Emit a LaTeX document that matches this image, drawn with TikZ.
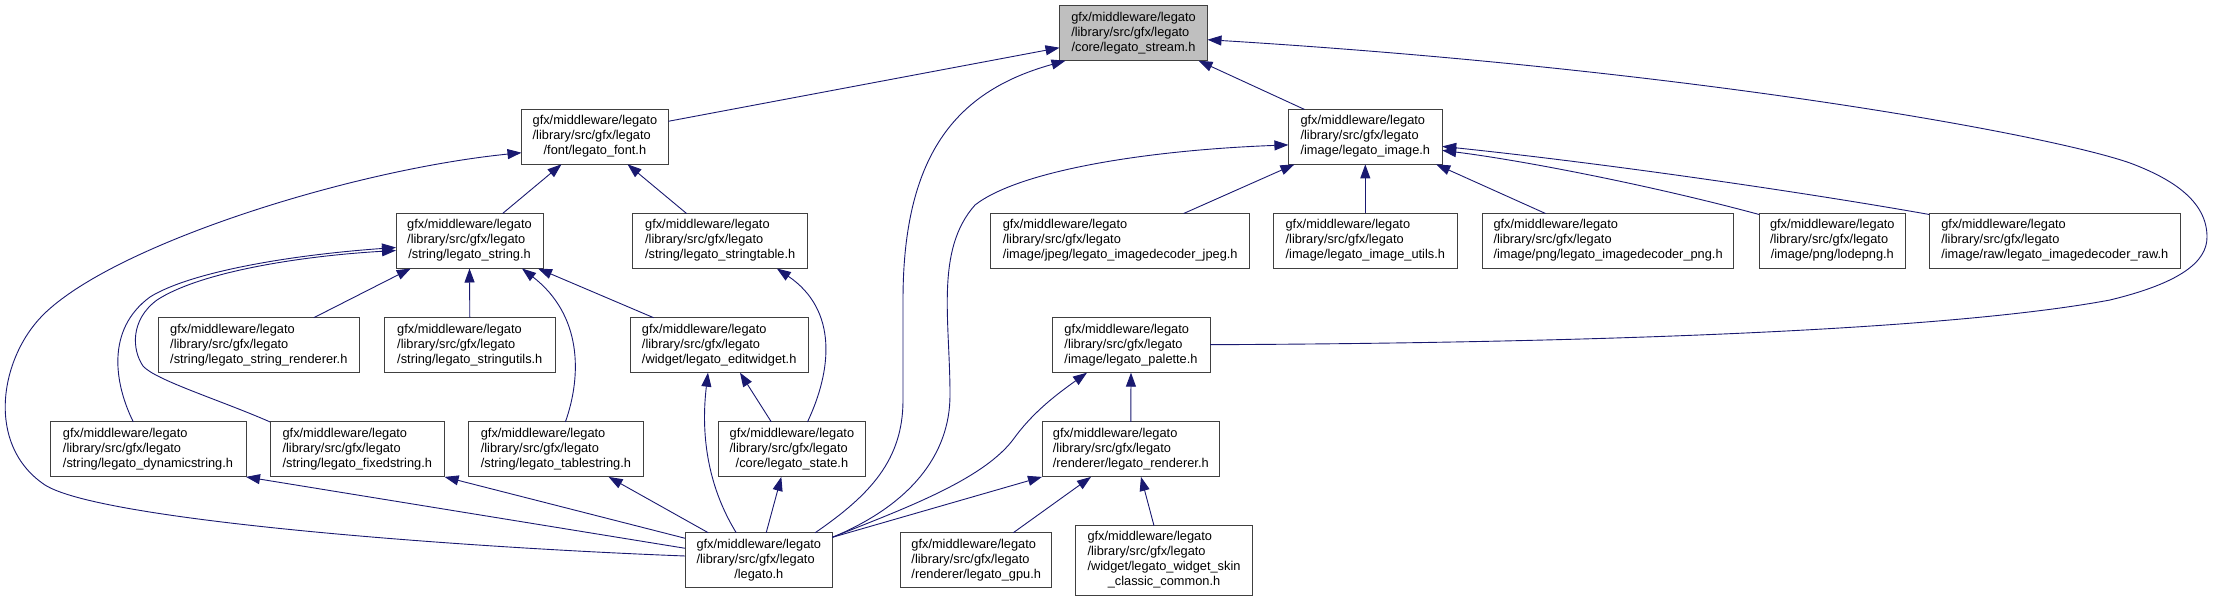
\documentclass[tikz,border=0pt]{standalone}
\usepackage{fontspec}
\setmainfont{Liberation Sans}
\usetikzlibrary{arrows.meta,calc}
\definecolor{edgeblue}{RGB}{25,25,112}
\definecolor{boxgray}{RGB}{191,191,191}
\newcommand\lblfont{\fontsize{12.8}{15}\selectfont}
\newcommand\dxlbl[1]{\begin{tabular}{@{}l@{}}gfx/middleware/legato\\/library/src/gfx/legato\\\multicolumn{1}{@{}c@{}}{#1}\end{tabular}}
\begin{document}
\begin{tikzpicture}[x=1pt,y=-1pt,
  filebox/.style={draw=black!75, line width=0.9pt, fill=white, inner sep=0pt, outer sep=0pt, minimum height=55pt, font=\lblfont},
  edge/.style={draw=edgeblue, line width=0.9pt, -{Triangle[length=14pt,width=10pt]}}]
\useasboundingbox (0,0) rectangle (2213,601);
% nodes
\node[filebox, fill=boxgray, minimum width=148pt] (stream) at (1133.5,33.2) {\dxlbl{/core/legato\_stream.h}};
\node[filebox, minimum width=146.8pt] (font) at (594.9,136.8) {\dxlbl{/font/legato\_font.h}};
\node[filebox, minimum width=153.8pt] (image) at (1365.3,136.9) {\dxlbl{/image/legato\_image.h}};
\node[filebox, minimum width=147pt] (string) at (469.5,241) {\dxlbl{/string/legato\_string.h}};
\node[filebox, minimum width=174.7pt] (stringtable) at (720.2,241) {\dxlbl{/string/legato\_stringtable.h}};
\node[filebox, minimum width=259.1pt] (jpeg) at (1120.2,241) {\dxlbl{/image/jpeg/legato\_imagedecoder\_jpeg.h}};
\node[filebox, minimum width=184pt] (imgutils) at (1365.3,241) {\dxlbl{/image/legato\_image\_utils.h}};
\node[filebox, minimum width=251.6pt] (png) at (1608.1,241) {\dxlbl{/image/png/legato\_imagedecoder\_png.h}};
\node[filebox, minimum width=146.3pt] (lodepng) at (1832.3,241) {\dxlbl{/image/png/lodepng.h}};
\node[filebox, minimum width=251pt] (raw) at (2054.8,241) {\dxlbl{/image/raw/legato\_imagedecoder\_raw.h}};
\node[filebox, minimum width=201.6pt] (strrenderer) at (258.8,345.2) {\dxlbl{/string/legato\_string\_renderer.h}};
\node[filebox, minimum width=170.4pt] (stringutils) at (469.8,345.2) {\dxlbl{/string/legato\_stringutils.h}};
\node[filebox, minimum width=178.4pt] (editwidget) at (719.2,345.2) {\dxlbl{/widget/legato\_editwidget.h}};
\node[filebox, minimum width=158pt] (palette) at (1131,345.2) {\dxlbl{/image/legato\_palette.h}};
\node[filebox, minimum width=196pt] (dynamicstring) at (148,449.4) {\dxlbl{/string/legato\_dynamicstring.h}};
\node[filebox, minimum width=174.6pt] (fixedstring) at (357.3,449.4) {\dxlbl{/string/legato\_fixedstring.h}};
\node[filebox, minimum width=174.6pt] (tablestring) at (555.9,449.4) {\dxlbl{/string/legato\_tablestring.h}};
\node[filebox, minimum width=147.2pt] (state) at (791.9,449.4) {\dxlbl{/core/legato\_state.h}};
\node[filebox, minimum width=177.6pt] (renderer) at (1130.8,449.4) {\dxlbl{/renderer/legato\_renderer.h}};
\node[filebox, minimum width=147.2pt] (legato) at (758.8,560.2) {\dxlbl{/legato.h}};
\node[filebox, minimum width=151pt] (gpu) at (976.2,560.2) {\dxlbl{/renderer/legato\_gpu.h}};
\node[filebox, minimum width=177pt, minimum height=69.4pt] (skin) at (1164,560.4) {\begin{tabular}{@{}l@{}}gfx/middleware/legato\\/library/src/gfx/legato\\/widget/legato\_widget\_skin\\\multicolumn{1}{@{}c@{}}{\_classic\_common.h}\end{tabular}};
% edges
\draw[edge] ($(font.north east)+(0,12)$) -- ($(stream.north west)+(0,42)$);
\draw[edge] ($(legato.north west)+(130,0)$) .. controls (870,495) and (903,460) .. (903,400) -- (903,300) .. controls (903,150) and (960,90) .. ($(stream.south west)+(6,0)$);
\draw[edge] ($(image.north west)+(16,0)$) -- ($(stream.south east)+(-9,0)$);
\draw[edge] ($(palette.north east)+(0,27)$) .. controls (1600,343) and (1950,330) .. (2110,300) .. controls (2180,283) and (2207,262) .. (2207,237) .. controls (2207,200) and (2170,178) .. (2130,163) .. controls (2050,135) and (1700,70) .. ($(stream.north east)+(0,34)$);
\draw[edge] ($(string.north west)+(106.6,0)$) -- ($(font.south west)+(40,0)$);
\draw[edge] ($(stringtable.north west)+(53.7,0)$) -- ($(font.south west)+(106,0)$);
\draw[edge] ($(legato.north west)+(0,23.3)$) .. controls (450,547) and (100,520) .. (45,485) .. controls (-15,445) and (0,358) .. (43,315) .. controls (113,245) and (350,170) .. ($(font.south west)+(0,-11.6)$);
\draw[edge] ($(strrenderer.north west)+(155.8,0)$) -- ($(string.south west)+(14.7,0)$);
\draw[edge] (stringutils.north) -- (string.south);
\draw[edge] ($(tablestring.north west)+(96.8,0)$) .. controls (582,375) and (582,315) .. ($(string.south west)+(126,0)$);
\draw[edge] ($(editwidget.north west)+(23.6,0)$) -- ($(string.south east)+(-5,0)$);
\draw[edge] ($(dynamicstring.north west)+(83.3,0)$) .. controls (115,385) and (105,330) .. (150,297) .. controls (190,272) and (290,255) .. ($(string.north west)+(0,34)$);
\draw[edge] (fixedstring.north west) .. controls (220,400) and (155,380) .. (143,366) .. controls (132,350) and (130,320) .. (157,300) .. controls (200,272) and (300,256) .. ($(string.north west)+(0,37)$);
\draw[edge] ($(state.north west)+(89.2,0)$) .. controls (832,370) and (838,310) .. ($(stringtable.south west)+(144,0)$);
\draw[edge] ($(state.north west)+(53,0)$) -- ($(editwidget.south west)+(110,0)$);
\draw[edge] ($(legato.north west)+(51,0)$) .. controls (710,490) and (700,440) .. ($(editwidget.south west)+(78,0)$);
\draw[edge] ($(legato.north west)+(81,0)$) -- ($(state.south west)+(63,0)$);
\draw[edge] ($(legato.north west)+(0,15.6)$) -- (dynamicstring.south east);
\draw[edge] ($(legato.north west)+(0,5.6)$) -- (fixedstring.south east);
\draw[edge] ($(legato.north west)+(23,0)$) -- ($(tablestring.south west)+(140,0)$);
\draw[edge] ($(legato.north east)+(0,4.6)$) .. controls (910,505) and (950,455) .. (950,395) .. controls (950,320) and (935,250) .. (975,205) .. controls (1020,170) and (1150,150) .. ($(image.north west)+(0,35.5)$);
\draw[edge] ($(jpeg.north west)+(193,0)$) -- ($(image.south west)+(6,0)$);
\draw[edge] (imgutils.north) -- (image.south);
\draw[edge] ($(png.north west)+(63.2,0)$) -- ($(image.south east)+(-6,0)$);
\draw[edge] ($(lodepng.north west)+(0,1)$) .. controls (1650,185) and (1520,160) .. ($(image.north east)+(0,41)$);
\draw[edge] ($(raw.north west)+(0,1)$) .. controls (1820,195) and (1620,165) .. ($(image.north east)+(0,37)$);
\draw[edge] (renderer.north) -- (palette.south);
\draw[edge] ($(legato.north east)+(0,4.6)$) -- (renderer.south west);
\draw[edge] ($(legato.north east)+(0,4.6)$) .. controls (900,510) and (985,480) .. (1015,437) .. controls (1035,410) and (1060,392) .. ($(palette.south west)+(35,0)$);
\draw[edge] ($(gpu.north west)+(112.6,0)$) -- ($(renderer.south west)+(49,0)$);
\draw[edge] ($(skin.north west)+(78.5,0)$) -- ($(renderer.south west)+(99,0)$);
\end{tikzpicture}
\end{document}
